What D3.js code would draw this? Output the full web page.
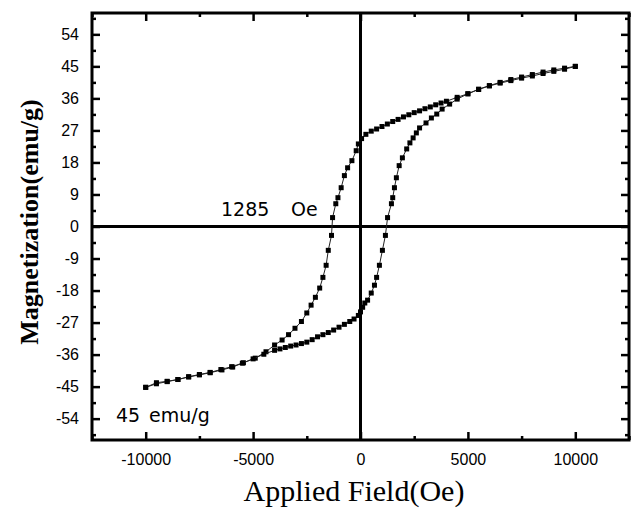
<!DOCTYPE html>
<html><head><meta charset="utf-8">
<script src="https://cdn.jsdelivr.net/npm/d3@7"></script>
<style>body{margin:0;background:#fff}svg{display:block}</style>
</head><body>
<svg id="c" width="634" height="513"></svg>
<script>
// Descending branch (+10000 -> -10000)
const descH = [10000,9500,9000,8500,8000,7500,7000,6500,6000,5500,5000,4500,4000,3750,3500,3250,3000,2750,2500,2250,2000,1750,1500,1250,1000,750,500,250,50,-100,-200,-400,-600,-750,-900,-1050,-1150,-1300,-1350,-1500,-1600,-1750,-1900,-2100,-2300,-2500,-2750,-3050,-3350,-3650,-4000,-4400,-4900,-5450,-5950,-6450,-7000,-7500,-8000,-8500,-9000,-9500,-10000];
const descM = [45.0,44.2,43.6,43.0,42.3,41.7,41.0,40.3,39.5,38.5,37.3,36.3,35.2,34.7,34.2,33.6,33.1,32.5,32.0,31.4,30.8,30.1,29.5,28.8,28.1,27.4,26.8,25.9,24.7,23.2,21.3,18.5,16.5,14.3,10.9,8.1,6.4,2.5,-2.5,-6.7,-10.9,-14.3,-17.3,-19.9,-22.1,-24.3,-26.7,-28.6,-30.4,-31.9,-33.3,-35.2,-37.0,-38.3,-39.5,-40.3,-41.1,-41.7,-42.3,-43.0,-43.6,-44.2,-45.2];
// Ascending branch (-10000 -> +10000)
const ascH = [-10000,-9500,-9000,-8500,-8000,-7500,-7000,-6500,-6000,-5500,-5000,-4500,-4000,-3750,-3500,-3250,-3000,-2750,-2500,-2250,-2000,-1750,-1500,-1250,-1000,-750,-500,-300,-100,0,100,200,330,500,650,750,880,1020,1160,1260,1440,1500,1580,1670,1800,1950,2150,2300,2450,2600,2750,3050,3300,3550,3800,4150,4500,5000,5500,6000,6500,7000,7500,8000,8500,9000,9500,10000];
const ascM = [-45.2,-43.9,-43.5,-43.0,-42.2,-41.6,-41.0,-40.2,-39.4,-38.4,-37.2,-35.9,-34.8,-34.4,-34.0,-33.6,-33.3,-32.9,-32.5,-31.8,-31.0,-30.4,-29.8,-29.1,-28.3,-27.5,-26.7,-26.0,-25.0,-24.0,-22.7,-21.5,-20.7,-18.7,-16.5,-14.3,-10.9,-6.7,-2.5,2.5,6.4,8.1,10.9,13.7,17.1,19.3,21.8,23.5,24.9,26.3,27.7,29.1,30.5,31.6,33.0,34.4,35.8,37.3,38.6,39.6,40.5,41.3,42.0,42.7,43.4,44.0,44.5,45.0];

const xMajor = [-10000,-5000,0,5000,10000];
const xMinor = [-12500,-7500,-2500,2500,7500,12500];
const yMajor = [-54,-45,-36,-27,-18,-9,0,9,18,27,36,45,54];
const yMinor = [-58.5,-49.5,-40.5,-31.5,-22.5,-13.5,-4.5,4.5,13.5,22.5,31.5,40.5,49.5,58.5];
const labels = {hcValue:"1285", hcUnit:"Oe", msValue:"45", msUnit:"emu/g", xTitle:"Applied Field(Oe)", yTitle:"Magnetization(emu/g)"};

const svg = d3.select("#c");
const L=92, R=629, T=13, B=440;
const x = d3.scaleLinear().domain([-12500,12500]).range([L,R]);
const y = d3.scaleLinear().domain([-60,60]).range([B,T]);
const fmt = d => String(d);

function axisG(axis, tr){
  const g = svg.append("g").attr("transform",tr).call(axis);
  g.select(".domain").remove();
  g.selectAll(".tick line").attr("stroke","#000").attr("stroke-width",2.5);
  g.selectAll("text").attr("font-family","Liberation Sans, Arial, sans-serif").attr("font-size",16).attr("fill","#000");
  return g;
}
// bottom
axisG(d3.axisBottom(x).tickValues(xMajor).tickSize(-8).tickPadding(14).tickFormat(fmt), `translate(0,${B})`);
axisG(d3.axisBottom(x).tickValues(xMinor).tickSize(-4).tickFormat(""), `translate(0,${B})`);
// top
axisG(d3.axisTop(x).tickValues(xMajor).tickSize(-8).tickFormat(""), `translate(0,${T})`);
axisG(d3.axisTop(x).tickValues(xMinor).tickSize(-4).tickFormat(""), `translate(0,${T})`);
// left
axisG(d3.axisLeft(y).tickValues(yMajor).tickSize(-8).tickPadding(13).tickFormat(fmt), `translate(${L},0)`);
axisG(d3.axisLeft(y).tickValues(yMinor).tickSize(-4).tickFormat(""), `translate(${L},0)`);
// right
axisG(d3.axisRight(y).tickValues(yMajor).tickSize(-8).tickFormat(""), `translate(${R},0)`);
axisG(d3.axisRight(y).tickValues(yMinor).tickSize(-4).tickFormat(""), `translate(${R},0)`);

// frame
svg.append("rect").attr("x",L).attr("y",T).attr("width",R-L).attr("height",B-T)
  .attr("fill","none").attr("stroke","#000").attr("stroke-width",3);
// zero lines
svg.append("line").attr("x1",x(0)).attr("x2",x(0)).attr("y1",T).attr("y2",B).attr("stroke","#000").attr("stroke-width",3);
svg.append("line").attr("x1",L).attr("x2",R).attr("y1",y(0)).attr("y2",y(0)).attr("stroke","#000").attr("stroke-width",3);

const line = d3.line().x(d=>x(d[0])).y(d=>y(d[1]));
const branches = [descH.map((h,i)=>[h,descM[i]]), ascH.map((h,i)=>[h,ascM[i]])];
branches.forEach(data=>{
  svg.append("path").datum(data).attr("d",line).attr("fill","none").attr("stroke","#222").attr("stroke-width",1);
  svg.append("g").selectAll("rect").data(data).join("rect")
    .attr("x",d=>x(d[0])-2.5).attr("y",d=>y(d[1])-2.5).attr("width",5).attr("height",5).attr("fill","#000");
});

// annotations
const ann = (txt, xx, yy) => svg.append("text").attr("x",xx).attr("y",yy)
  .attr("font-family","DejaVu Sans, sans-serif").attr("font-size",19).attr("fill","#000").text(txt);
ann(labels.hcValue, 221, 216);
ann(labels.hcUnit, 291, 216);
ann(labels.msValue, 116, 422);
ann(labels.msUnit, 149, 422);

// titles
svg.append("text").attr("x",354).attr("y",501).attr("text-anchor","middle")
  .attr("font-family","Liberation Serif, Times New Roman, serif").attr("font-size",30).text(labels.xTitle);
svg.append("text").attr("transform",`translate(38,222) rotate(-90)`).attr("text-anchor","middle")
  .attr("font-family","Liberation Serif, Times New Roman, serif").attr("font-weight","bold").attr("font-size",26).text(labels.yTitle);
</script>
</body></html>
